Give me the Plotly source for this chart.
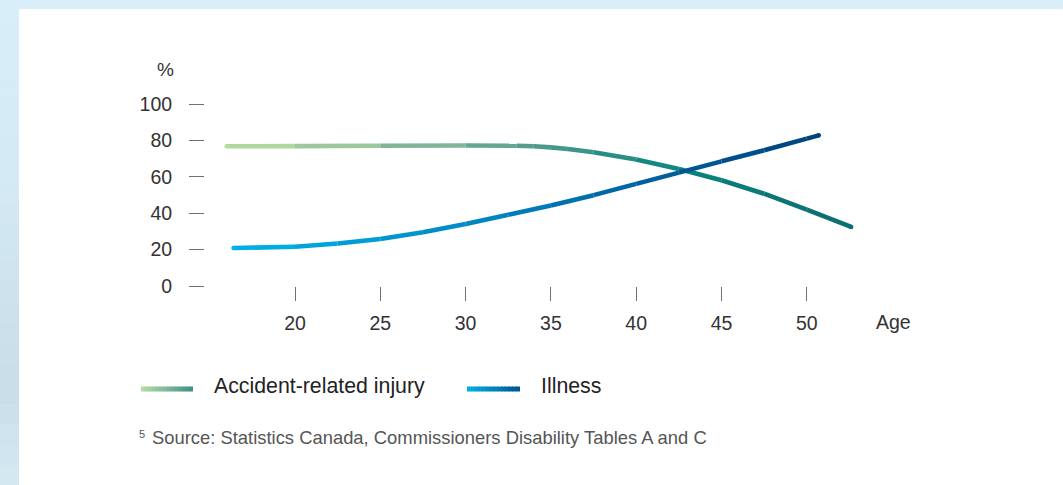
import plotly.graph_objects as go

# ---------------- data ----------------
accident_age = [16, 20, 25, 30, 33, 34, 35, 36, 37.5, 40, 42.5, 45, 47.5, 50, 52.6]
accident_pct = [76.9, 77.0, 77.2, 77.3, 77.2, 76.9, 76.3, 75.4, 73.6, 69.6, 64.4, 58.2, 50.8, 42.0, 32.5]

illness_age = [16.4, 20, 22.5, 25, 27.5, 30, 32.5, 35, 37.5, 40, 42.5, 45, 47.5, 50, 50.7]
illness_pct = [20.9, 21.6, 23.4, 25.9, 29.6, 34.1, 39.2, 44.3, 50.0, 56.2, 62.4, 68.6, 74.7, 81.1, 82.9]

x_ticks = [20, 25, 30, 35, 40, 45, 50]
y_ticks = [0, 20, 40, 60, 80, 100]

series_names = ["Accident-related injury", "Illness"]
y_unit = "%"
x_title = "Age"
source_note = "Source: Statistics Canada, Commissioners Disability Tables A and C"
source_mark = "5"

# ---------------- styling ----------------
FW, FH = 1063, 485
L, R, T, B = 205, 187, 95, 199
W, H = FW - L - R, FH - T - B
FONT = "Liberation Sans, Arial, Helvetica, sans-serif"

acc_stops = [(0.0, (184, 221, 161)), (0.25, (143, 192, 156)), (0.5, (79, 154, 140)),
             (0.72, (10, 133, 126)), (1.0, (12, 108, 112))]
ill_stops = [(0.0, (0, 178, 232)), (0.4, (0, 137, 196)), (0.55, (0, 117, 180)),
             (0.78, (0, 88, 150)), (1.0, (0, 66, 126))]
acc_legend_stops = [(0.0, (184, 221, 161)), (0.5, (125, 182, 152)), (1.0, (62, 143, 130))]
ill_legend_stops = [(0.0, (0, 176, 230)), (0.5, (0, 132, 192)), (1.0, (0, 82, 143))]


def grad(stops, f):
    f = min(max(f, 0.0), 1.0)
    for (f0, c0), (f1, c1) in zip(stops[:-1], stops[1:]):
        if f <= f1:
            t = (f - f0) / (f1 - f0) if f1 > f0 else 0
            c = [round(a + (b - a) * t) for a, b in zip(c0, c1)]
            return "rgb(%d,%d,%d)" % tuple(c)
    return "rgb(%d,%d,%d)" % stops[-1][1]


def px_x(px):
    return (px - L) / W


def px_y(py):
    return 1 - (py - T) / H


fig = go.Figure()


def add_gradient_series(xs, ys, stops, width=4.6):
    x0, x1 = xs[0], xs[-1]
    for i in range(len(xs) - 1):
        f = ((xs[i] + xs[i + 1]) / 2 - x0) / (x1 - x0)
        fig.add_trace(go.Scatter(
            x=[xs[i], xs[i + 1]], y=[ys[i], ys[i + 1]], mode="lines",
            line=dict(color=grad(stops, f), width=width),
            showlegend=False, hoverinfo="skip"))
    # round end caps
    fig.add_trace(go.Scatter(
        x=[xs[0], xs[-1]], y=[ys[0], ys[-1]], mode="markers",
        marker=dict(size=width, color=[grad(stops, 0), grad(stops, 1)], line=dict(width=0)),
        showlegend=False, hoverinfo="skip"))


add_gradient_series(accident_age, accident_pct, acc_stops)
add_gradient_series(illness_age, illness_pct, ill_stops)

shapes = []
# background: white panel with light blue top / left strips
shapes.append(dict(type="rect", xref="paper", yref="paper", x0=px_x(0), x1=px_x(FW),
                   y0=px_y(9), y1=px_y(0), fillcolor="#d9eef9", line=dict(width=0), layer="below"))
strip_stops = [(0.0, (216, 238, 249)), (0.35, (212, 234, 245)), (0.6, (205, 226, 236)),
               (0.8, (200, 221, 231)), (1.0, (212, 233, 242))]
nb = 24
for k in range(nb):
    a = FH * k / nb
    b = FH * (k + 1) / nb + 0.5
    shapes.append(dict(type="rect", xref="paper", yref="paper", x0=px_x(0), x1=px_x(19),
                       y0=px_y(b), y1=px_y(a), fillcolor=grad(strip_stops, (k + 0.5) / nb),
                       line=dict(width=0), layer="below"))

# legend swatches (gradient)
annotations = []
for (xa, xb), stops, name, tx in [((141, 193), acc_legend_stops, series_names[0], 213),
                                  ((467, 520), ill_legend_stops, series_names[1], 540)]:
    n = 14
    for k in range(n):
        sx0 = xa + (xb - xa) * k / n
        sx1 = xa + (xb - xa) * (k + 1) / n + 0.6
        shapes.append(dict(type="line", xref="paper", yref="paper",
                           x0=px_x(sx0), x1=px_x(min(sx1, xb)), y0=px_y(389), y1=px_y(389),
                           line=dict(color=grad(stops, (k + 0.5) / n), width=5)))
    annotations.append(dict(text=name, xref="paper", yref="paper", x=px_x(tx - 1), y=px_y(386),
                            xanchor="left", yanchor="middle", showarrow=False,
                            font=dict(family=FONT, size=21.3, color="#222222")))

annotations += [
    dict(text=y_unit, xref="paper", yref="paper", x=px_x(165), y=px_y(70),
         xanchor="center", yanchor="middle", showarrow=False,
         font=dict(family=FONT, size=19, color="#333333")),
    dict(text=x_title, xref="paper", yref="paper", x=px_x(874), y=px_y(322),
         xanchor="left", yanchor="middle", showarrow=False,
         font=dict(family=FONT, size=19.5, color="#333333")),
    dict(text=source_mark, xref="paper", yref="paper", x=px_x(137), y=px_y(434),
         xanchor="left", yanchor="middle", showarrow=False,
         font=dict(family=FONT, size=11, color="#555555")),
    dict(text=source_note, xref="paper", yref="paper", x=px_x(150), y=px_y(437),
         xanchor="left", yanchor="middle", showarrow=False,
         font=dict(family=FONT, size=18.4, color="#555555")),
]

x_min = 20 - (295 - L) / 17.06
x_max = 20 + (L + W - 295) / 17.06
y_max = (286 - T) / 1.817

fig.update_layout(
    width=FW, height=FH,
    margin=dict(l=L, r=R, t=T, b=B, pad=0),
    paper_bgcolor="white", plot_bgcolor="rgba(0,0,0,0)",
    shapes=shapes, annotations=annotations,
    showlegend=False,
    font=dict(family=FONT, color="#333333"),
    xaxis=dict(range=[x_min, x_max], tickvals=x_ticks, ticktext=[str(v) for v in x_ticks],
               showgrid=False, zeroline=False, showline=False,
               ticks="outside", ticklen=14, tickwidth=1.4, tickcolor="#707070",
               ticklabelstandoff=6,
               tickfont=dict(family=FONT, size=19.5, color="#333333"), fixedrange=True),
    yaxis=dict(range=[0, y_max], tickvals=y_ticks, ticktext=[str(v) for v in y_ticks],
               showgrid=False, zeroline=False, showline=False,
               ticks="outside", ticklen=15, tickwidth=1.4, tickcolor="#707070",
               ticklabelstandoff=13,
               tickfont=dict(family=FONT, size=19.5, color="#333333"), fixedrange=True),
)

fig.write_html("out.html", config={"displayModeBar": False},
               post_script="document.body.style.margin='0';document.body.style.overflow='hidden';")
